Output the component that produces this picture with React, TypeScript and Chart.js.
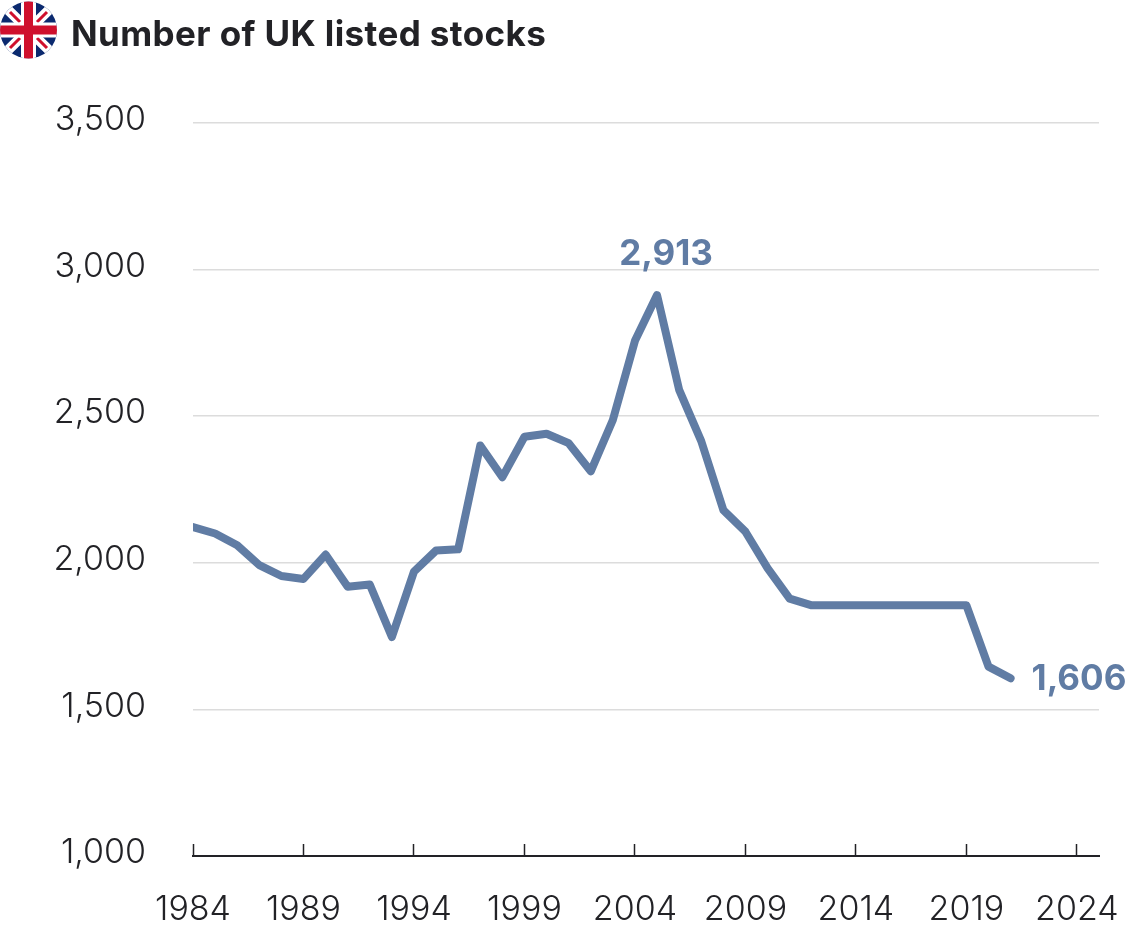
import React, { useEffect, useRef } from "react";
import { Chart, registerables } from "chart.js";

Chart.register(...registerables);

const years = [1984,1985,1986,1987,1988,1989,1990,1991,1992,1993,1994,1995,1996,1997,1998,1999,2000,2001,2002,2003,2004,2005,2006,2007,2008,2009,2010,2011,2012,2013,2014,2015,2016,2017,2018,2019,2020,2021];
const stocks = [2122,2100,2060,1992,1955,1945,2028,1918,1926,1747,1970,2042,2046,2400,2292,2430,2440,2408,2312,2487,2757,2913,2590,2415,2180,2106,1982,1878,1855,1855,1855,1855,1855,1855,1855,1855,1646,1606];
const xTicks = [1984,1989,1994,1999,2004,2009,2014,2019,2024];
const yTicks = [1000,1500,2000,2500,3000,3500];
const titleText = "Number of UK listed stocks";

const LINE = "#607ca4";
const INK = "#222226";
const FONT = "Inter, 'Liberation Sans', sans-serif";

const endLabels = {
  id: "endLabels",
  afterDatasetsDraw(chart: any) {
    const { ctx, scales } = chart;
    const peak = Math.max(...stocks);
    const peakI = stocks.indexOf(peak);
    const last = stocks.length - 1;
    ctx.save();
    ctx.fillStyle = LINE;
    ctx.font = `700 35px ${FONT}`;
    ctx.textBaseline = "middle";
    ctx.textAlign = "center";
    ctx.fillText(peak.toLocaleString("en-US"), scales.x.getPixelForValue(years[peakI]) + 9, scales.y.getPixelForValue(peak) - 41);
    ctx.textAlign = "left";
    ctx.fillText(stocks[last].toLocaleString("en-US"), scales.x.getPixelForValue(years[last]) + 21, scales.y.getPixelForValue(stocks[last]) + 1);
    ctx.restore();
  },
};

function Flag() {
  return (
    <svg width="58" height="58" viewBox="0 0 58 58" style={{ position: "absolute", left: 0, top: 1 }}>
      <defs>
        <clipPath id="c"><circle cx="28.5" cy="29" r="28.5" /></clipPath>
      </defs>
      <g clipPath="url(#c)">
        <rect width="58" height="58" fill="#0b2a6f" />
        <path d="M-1 0L58 58M58 0L-1 58" stroke="#fff" strokeWidth="10" />
        <path d="M10 11L20 21M47 11L37 21M10 47L20 37M47 47L37 37" stroke="#cf102d" strokeWidth="3" />
        <path d="M28.5 0V58M0 29H58" stroke="#fff" strokeWidth="15" />
        <path d="M28.5 0V58M0 29H58" stroke="#cf102d" strokeWidth="9" />
      </g>
    </svg>
  );
}

export default function App() {
  const ref = useRef<HTMLCanvasElement>(null);
  useEffect(() => {
    const chart = new Chart(ref.current!, {
      type: "line",
      data: {
        datasets: [{
          data: years.map((y, i) => ({ x: y, y: stocks[i] })),
          borderColor: LINE,
          borderWidth: 8,
          borderCapStyle: "round",
          borderJoinStyle: "round",
          pointRadius: 0,
          tension: 0,
        }],
      },
      plugins: [endLabels],
      options: {
        responsive: false,
        animation: false,
        layout: { padding: { left: 0, right: 33, top: 123, bottom: 0 } },
        plugins: { legend: { display: false }, title: { display: false }, tooltip: { enabled: false } },
        scales: {
          x: {
            type: "linear",
            min: 1984,
            max: 2025,
            afterBuildTicks: (s: any) => { s.ticks = xTicks.map((value) => ({ value })); },
            afterFit: (s: any) => { s.height = 69; s.paddingLeft = 0; s.paddingRight = 0; },
            grid: { drawOnChartArea: false, drawTicks: true, tickLength: -12, tickColor: INK, tickWidth: 1.5 },
            border: { display: true, color: INK, width: 2 },
            ticks: {
              autoSkip: false,
              maxRotation: 0,
              padding: 45,
              color: INK,
              font: { family: FONT, size: 34, weight: "300" },
              callback: (v: any) => String(v),
            },
          },
          y: {
            min: 1000,
            max: 3500,
            afterBuildTicks: (s: any) => { s.ticks = yTicks.map((value) => ({ value })); },
            afterFit: (s: any) => { s.width = 193; s.paddingTop = 0; s.paddingBottom = 0; },
            grid: { color: (c: any) => (c.tick && c.tick.value === 1000 ? "rgba(0,0,0,0)" : "#dcdcdc"), lineWidth: 1.5, drawTicks: false },
            border: { display: false },
            ticks: {
              padding: 47,
              labelOffset: -3,
              color: INK,
              font: { family: FONT, size: 34, weight: "300" },
              callback: (v: any) => Number(v).toLocaleString("en-US"),
            },
          },
        },
      },
    } as any);
    return () => chart.destroy();
  }, []);
  return (
    <div style={{ position: "fixed", left: 0, top: 0, width: 1132, height: 925, background: "#fff", overflow: "hidden" }}>
      <canvas ref={ref} width={1132} height={925} style={{ position: "absolute", left: 0, top: 0 }} />
      <Flag />
      <div style={{ position: "absolute", left: 71, top: 12, font: `700 35px ${FONT}`, letterSpacing: 0.4, color: INK, whiteSpace: "nowrap", lineHeight: "42px" }}>{titleText}</div>
    </div>
  );
}
